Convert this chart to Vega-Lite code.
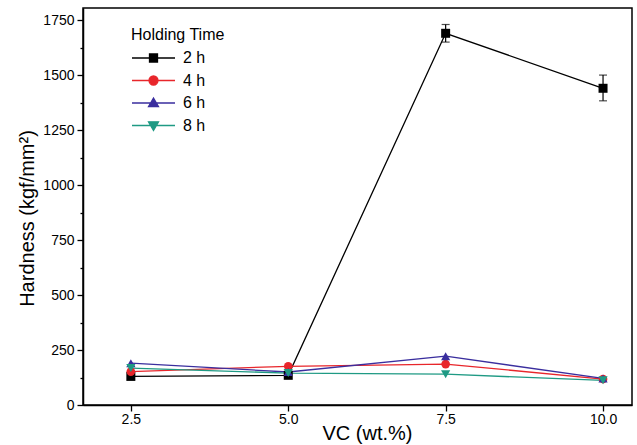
{
  "$schema": "https://vega.github.io/schema/vega-lite/v6.json",
  "width": 549,
  "height": 397,
  "autosize": {"type": "none"},
  "padding": {"left": 83, "top": 8, "right": 5, "bottom": 40},
  "background": "white",
  "config": {
    "font": "Liberation Sans",
    "view": {"stroke": "black", "strokeWidth": 1.5},
    "axis": {
      "domainColor": "black",
      "domainWidth": 1.5,
      "tickColor": "black",
      "tickWidth": 1.3,
      "grid": false,
      "labelColor": "black",
      "titleColor": "black",
      "labelFont": "Liberation Sans",
      "titleFont": "Liberation Sans",
      "labelFontSize": 14,
      "titleFontSize": 20,
      "titleFontWeight": "normal"
    },
    "legend": {
      "orient": "none",
      "legendX": 48,
      "legendY": 19,
      "titleFontSize": 16,
      "titleFontWeight": "normal",
      "titleColor": "black",
      "titlePadding": 4,
      "labelFontSize": 16,
      "labelColor": "black",
      "labelOffset": 30,
      "symbolSize": 400,
      "symbolStrokeWidth": 1.3,
      "symbolOpacity": 1,
      "rowPadding": 3.5,
      "padding": 0
    }
  },
  "data": {
    "values": [
      {"time": "2 h", "vc": 2.5, "hardness": 130},
      {"time": "2 h", "vc": 5.0, "hardness": 135},
      {"time": "2 h", "vc": 7.5, "hardness": 1690, "lo": 1650, "hi": 1730},
      {"time": "2 h", "vc": 10.0, "hardness": 1440, "lo": 1383, "hi": 1500},
      {"time": "4 h", "vc": 2.5, "hardness": 152},
      {"time": "4 h", "vc": 5.0, "hardness": 176},
      {"time": "4 h", "vc": 7.5, "hardness": 186},
      {"time": "4 h", "vc": 10.0, "hardness": 118},
      {"time": "6 h", "vc": 2.5, "hardness": 190},
      {"time": "6 h", "vc": 5.0, "hardness": 150},
      {"time": "6 h", "vc": 7.5, "hardness": 222},
      {"time": "6 h", "vc": 10.0, "hardness": 121},
      {"time": "8 h", "vc": 2.5, "hardness": 168},
      {"time": "8 h", "vc": 5.0, "hardness": 145},
      {"time": "8 h", "vc": 7.5, "hardness": 140},
      {"time": "8 h", "vc": 10.0, "hardness": 112}
    ]
  },
  "encoding": {
    "x": {
      "field": "vc",
      "type": "quantitative",
      "title": "VC (wt.%)",
      "scale": {"domain": [1.74, 10.46], "nice": false, "zero": false},
      "axis": {
        "values": [2.5, 5.0, 7.5, 10.0],
        "format": ".1f",
        "tickSize": 6,
        "labelPadding": 1,
        "titlePadding": -3,
        "titleX": 284
      }
    },
    "y": {
      "field": "hardness",
      "type": "quantitative",
      "title": "Hardness (kgf/mm²)",
      "scale": {"domain": [0, 1805], "nice": false},
      "axis": {
        "values": [0, 125, 250, 375, 500, 625, 750, 875, 1000, 1125, 1250, 1375, 1500, 1625, 1750],
        "format": "d",
        "labelExpr": "datum.value % 250 === 0 ? datum.label : ''",
        "labelOverlap": false,
        "tickSize": {"condition": {"test": "datum.value % 250 === 0", "value": 6}, "value": 3},
        "labelPadding": 3,
        "titlePadding": 5,
        "titleY": 210
      }
    }
  },
  "layer": [
    {
      "mark": {"type": "line", "strokeWidth": 1.3},
      "encoding": {
        "detail": {"field": "time", "type": "nominal"},
        "color": {
          "field": "time",
          "type": "nominal",
          "scale": {"domain": ["2 h", "4 h", "6 h", "8 h"], "range": ["#000000", "#e8262b", "#3a2e9e", "#1f9a84"]},
          "legend": {
            "title": "Holding Time",
            "symbolType": "stroke"
          }
        }
      }
    },
    {
      "mark": {"type": "rule", "strokeWidth": 1.2, "color": "black"},
      "encoding": {
        "y": {"field": "lo", "type": "quantitative"},
        "y2": {"field": "hi"}
      }
    },
    {
      "mark": {"type": "tick", "thickness": 1.2, "size": 8, "orient": "horizontal", "color": "black"},
      "encoding": {
        "y": {"field": "lo", "type": "quantitative"}
      }
    },
    {
      "mark": {"type": "tick", "thickness": 1.2, "size": 8, "orient": "horizontal", "color": "black"},
      "encoding": {
        "y": {"field": "hi", "type": "quantitative"}
      }
    },
    {
      "transform": [{"filter": "datum.time === '2 h'"}],
      "mark": {"type": "point", "filled": true, "opacity": 1, "size": 81, "shape": "square", "color": "#000000"}
    },
    {
      "transform": [{"filter": "datum.time === '4 h'"}],
      "mark": {"type": "point", "filled": true, "opacity": 1, "size": 75, "shape": "circle", "color": "#e8262b"}
    },
    {
      "transform": [{"filter": "datum.time === '6 h'"}],
      "mark": {"type": "point", "filled": true, "opacity": 1, "size": 85, "shape": "triangle-up", "color": "#3a2e9e"}
    },
    {
      "transform": [{"filter": "datum.time === '8 h'"}],
      "mark": {"type": "point", "filled": true, "opacity": 1, "size": 85, "shape": "triangle-down", "color": "#1f9a84"}
    },
    {
      "mark": {"type": "point", "filled": true, "opacity": 1, "size": 0, "strokeWidth": 1.3},
      "encoding": {
        "shape": {
          "field": "time",
          "type": "nominal",
          "scale": {"domain": ["2 h", "4 h", "6 h", "8 h"], "range": ["M-1,0H3.3M0.75,-0.4H1.55V0.4H0.75Z", "M-1,0H3.3M0.7,0A0.45,0.45,0,1,0,1.6,0A0.45,0.45,0,1,0,0.7,0Z", "M-1,0H3.3M1.15,-0.5L1.65,0.37H0.65Z", "M-1,0H3.3M1.15,0.5L1.65,-0.37H0.65Z"]},
          "legend": {"title": "Holding Time"}
        },
        "color": {
          "field": "time",
          "type": "nominal",
          "scale": {"domain": ["2 h", "4 h", "6 h", "8 h"], "range": ["#000000", "#e8262b", "#3a2e9e", "#1f9a84"]},
          "legend": {"title": "Holding Time"}
        },
        "stroke": {
          "field": "time",
          "type": "nominal",
          "scale": {"domain": ["2 h", "4 h", "6 h", "8 h"], "range": ["#000000", "#e8262b", "#3a2e9e", "#1f9a84"]},
          "legend": {"title": "Holding Time"}
        }
      }
    }
  ]
}
